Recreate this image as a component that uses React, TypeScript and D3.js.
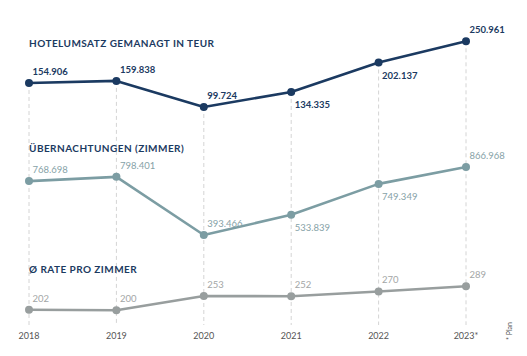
import React from "react";
import * as d3 from "d3";

const years = ["2018", "2019", "2020", "2021", "2022", "2023*"];
const revenue = [154906, 159838, 99724, 134335, 202137, 250961];
const nights = [768698, 798401, 393466, 533839, 749349, 866968];
const rate = [202, 200, 253, 252, 270, 289];

const revenuePos = ["above", "above", "above", "below", "below", "above"];
const nightsPos = ["above", "above", "above", "below", "below", "above"];
const ratePos = ["above", "above", "above", "above", "above", "above"];

const titles = ["HOTELUMSATZ GEMANAGT IN TEUR", "ÜBERNACHTUNGEN (ZIMMER)", "Ø RATE PRO ZIMMER"];

const W = 527;
const H = 356;
const FONT = "Lato, 'Open Sans', sans-serif";

const fmt = (v: number) => (v >= 1000 ? d3.format(",")(v).replace(/,/g, ".") : String(v));

export default function App() {
  const x = d3.scalePoint<string>().domain(years).range([29, 466]);

  const series = [
    {
      values: revenue,
      pos: revenuePos,
      y: d3.scaleLinear().domain(d3.extent(revenue) as [number, number]).range([107, 41.3]),
      line: "#1b3a61",
      label: "#1b3a61",
      titleY: 47,
    },
    {
      values: nights,
      pos: nightsPos,
      y: d3.scaleLinear().domain(d3.extent(nights) as [number, number]).range([235, 167]),
      line: "#7c9da3",
      label: "#86a2a7",
      titleY: 152,
    },
    {
      values: rate,
      pos: ratePos,
      y: d3.scaleLinear().domain(d3.extent(rate) as [number, number]).range([310.3, 286.3]),
      line: "#989e9e",
      label: "#a3a6a6",
      titleY: 273,
    },
  ];

  const top = series[0];

  return (
    <svg
      width={W}
      height={H}
      style={{ position: "absolute", left: 0, top: 0, background: "#fff" }}
      fontFamily={FONT}
    >
      {years.map((yr, i) => (
        <line
          key={"g" + yr}
          x1={x(yr)}
          x2={x(yr)}
          y1={top.y(top.values[i])}
          y2={325}
          stroke="#d4d4d4"
          strokeWidth={1}
          strokeDasharray="4,3"
        />
      ))}
      {series.map((s, si) => {
        const line = d3
          .line<number>()
          .x((_, i) => x(years[i]) as number)
          .y((v) => s.y(v));
        return (
          <g key={si}>
            <text
              x={29}
              y={s.titleY}
              fontSize={10}
              fontWeight={700}
              letterSpacing={0.45}
              fill="#1b3a61"
            >
              {titles[si]}
            </text>
            <path d={line(s.values) || ""} fill="none" stroke={s.line} strokeWidth={2.6} strokeLinejoin="round" />
            {s.values.map((v, i) => (
              <circle key={i} cx={x(years[i])} cy={s.y(v)} r={4} fill={s.line} />
            ))}
            {s.values.map((v, i) => (
              <text
                key={"l" + i}
                x={(x(years[i]) as number) + 3.5}
                y={s.y(v) + (s.pos[i] === "above" ? -8 : 16)}
                fontSize={9.5}
                fontWeight={si === 0 ? 700 : 400}
                fill={s.label}
              >
                {fmt(v)}
              </text>
            ))}
          </g>
        );
      })}
      {years.map((yr) => (
        <text key={"t" + yr} x={x(yr)} y={339} fontSize={9} textAnchor="middle" fill="#555">
          {yr}
        </text>
      ))}
      <text
        transform={`translate(512,340) rotate(-90)`}
        fontSize={7}
        fill="#555"
      >
        * Plan
      </text>
    </svg>
  );
}
